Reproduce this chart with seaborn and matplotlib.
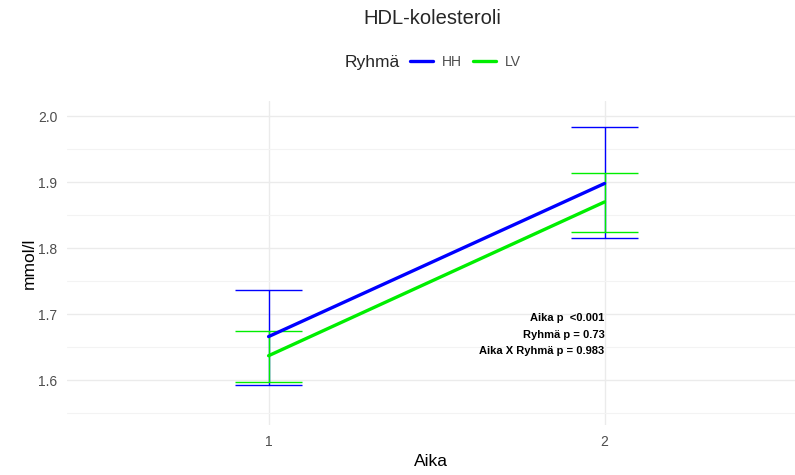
import matplotlib
matplotlib.use("Agg")
import matplotlib.pyplot as plt
import seaborn as sns
import pandas as pd
from matplotlib.ticker import MultipleLocator

sns.set_theme(style="white")
plt.rcParams["font.family"] = ["Liberation Sans", "DejaVu Sans"]

aika = [1, 2]
groups = ["HH", "LV"]
hh_mean = [1.666, 1.898]
hh_low = [1.593, 1.815]
hh_high = [1.737, 1.984]
lv_mean = [1.637, 1.870]
lv_low = [1.597, 1.824]
lv_high = [1.675, 1.914]
p_texts = ["Aika p  <0.001", "Ryhmä p = 0.73", "Aika X Ryhmä p = 0.983"]

colors = {"HH": "#0000FF", "LV": "#00EE00"}

df = pd.DataFrame({
    "Aika": aika * 2,
    "Ryhmä": ["HH"] * 2 + ["LV"] * 2,
    "mean": hh_mean + lv_mean,
    "low": hh_low + lv_low,
    "high": hh_high + lv_high,
})

fig = plt.figure(figsize=(7.95, 4.75), dpi=100)
ax = fig.add_axes([67 / 795, 1 - 425 / 475, 728 / 795, 324 / 475])

# grid like theme_minimal
ax.yaxis.set_major_locator(MultipleLocator(0.1))
ax.yaxis.set_minor_locator(MultipleLocator(0.05))
ax.set_xticks(aika)
ax.grid(which="major", color="#EBEBEB", linewidth=1.0)
ax.grid(which="minor", axis="y", color="#F3F3F3", linewidth=0.8)
ax.set_axisbelow(True)
for s in ax.spines.values():
    s.set_visible(False)

# error bars (LV drawn over HH)
for z, g in enumerate(groups):
    sub = df[df["Ryhmä"] == g]
    ax.vlines(sub["Aika"], sub["low"], sub["high"], color=colors[g], linewidth=1.0, zorder=2 + z * 0.1)
    for x, lo, hi in zip(sub["Aika"], sub["low"], sub["high"]):
        ax.hlines([lo, hi], x - 0.1, x + 0.1, color=colors[g], linewidth=1.0, zorder=2 + z * 0.1)

sns.lineplot(data=df, x="Aika", y="mean", hue="Ryhmä", palette=colors,
             linewidth=2.4, ax=ax, legend=False, zorder=3)

ax.set_xlim(0.4, 2.567)
ax.set_ylim(1.532, 2.023)
ax.tick_params(axis="both", length=0, labelsize=10, labelcolor="#4D4D4D", pad=7)
ax.set_xlabel("Aika", fontsize=12.5, color="black", labelpad=4)
ax.set_ylabel("mmol/l", fontsize=12.5, color="black", labelpad=1)

for i, t in enumerate(p_texts):
    ax.text(2.0, 1.694 - i * 0.025, t, ha="right", va="center",
            fontsize=8, fontweight="bold", color="black")

fig.text(432 / 795, 1 - 18 / 475, "HDL-kolesteroli", ha="center", va="center", fontsize=14.5)

# legend on top
fig.text(345 / 795, 1 - 62 / 475, "Ryhmä", ha="left", va="center", fontsize=12.5)
handles = [plt.Line2D([], [], color=colors[g], linewidth=2.4) for g in groups]
fig.legend(handles, groups, ncol=2, loc="center left",
           bbox_to_anchor=(397 / 795, 1 - 62 / 475), frameon=False,
           fontsize=10, handlelength=1.7, handletextpad=0.6, columnspacing=0.8,
           labelcolor="#4D4D4D")

fig.savefig("out.png", dpi=100)
